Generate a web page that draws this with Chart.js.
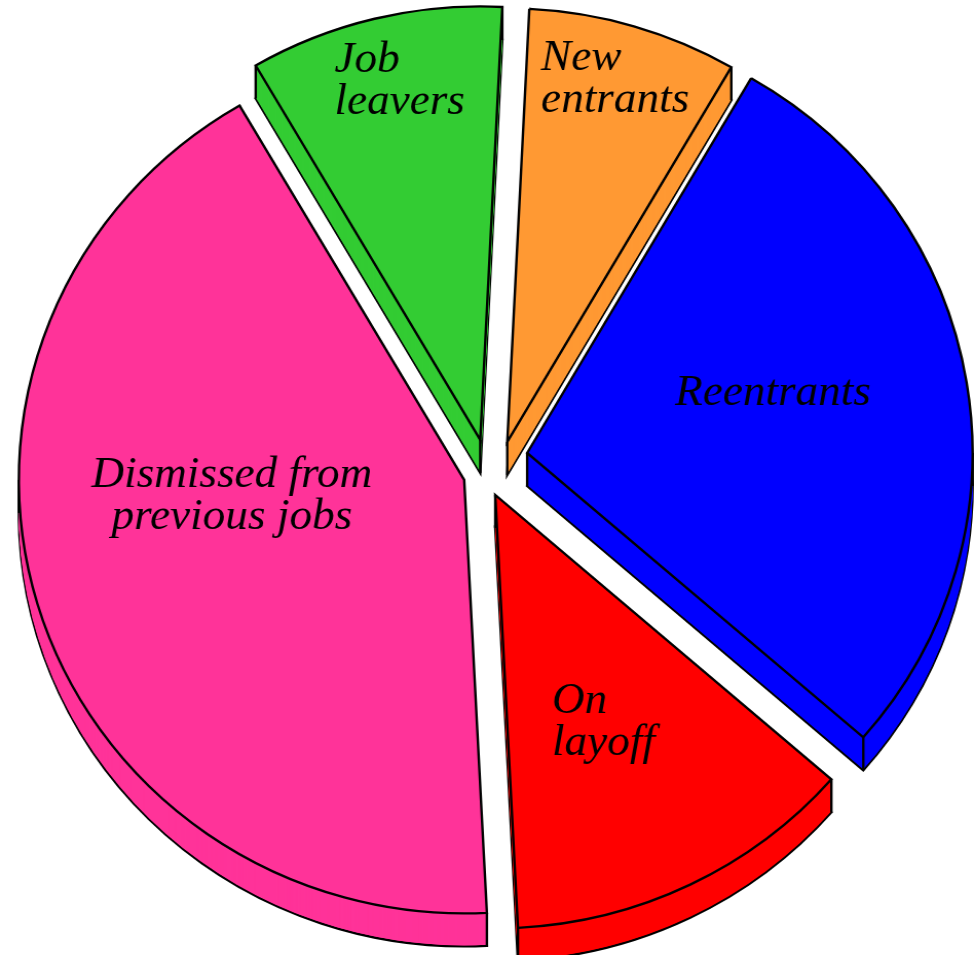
<!DOCTYPE html>
<html>
<head>
<meta charset="utf-8">
<script src="https://cdn.jsdelivr.net/npm/chart.js@4.4.1/dist/chart.umd.min.js"></script>
<style>
  html, body { margin: 0; background: #fff; }
  #wrap { width: 948px; height: 955px; transform: scaleX(1.0274); transform-origin: 0 0; }
</style>
</head>
<body>
<div id="wrap"><canvas id="myChart" width="948" height="955"></canvas></div>
<script>
// unemployed by reason, percent of total
var categories = ["New entrants", "Reentrants", "On layoff", "Dismissed from previous jobs", "Job leavers"];
var shares = [7.6, 28.0, 12.8, 42.4, 9.2];
var sliceLabels = [["New", "entrants"], ["Reentrants"], ["On", "layoff"], ["Dismissed from", "previous jobs"], ["Job", "leavers"]];
var sliceColors = ["#ff9933", "#0000ff", "#ff0000", "#ff3399", "#33cc33"];

// how far each slice is pulled out (px) and in which clock direction (deg)
var explode = [31.7, 39.8, 27.0, 27.2, 30.0];
var explodeDir = [32.9, 66.9, 168.2, 245.2, 342.4];
// label spot inside each slice: clock angle (deg) and fraction of radius
var labelAngle = [5.05, 71.6, 165.8, 268.2, 338.9];
var labelRadius = [0.862, 0.350, 0.519, 0.522, 0.910];
var labelAlign = ["left", "left", "left", "center", "left"];
var depth = 33;
var lineW = 2.4;

function shiftOf(i) {
  var a = explodeDir[i] * Math.PI / 180;
  return {x: Math.sin(a) * explode[i], y: -Math.cos(a) * explode[i]};
}

function slicePath(ctx, x, y, r, a0, a1) {
  ctx.beginPath();
  ctx.moveTo(x, y);
  ctx.arc(x, y, r, a0, a1);
  ctx.closePath();
}

// thick exploded pie: walls first, then chart.js draws each top face
var pie3d = {
  id: 'pie3d',
  beforeDatasetDraw: function () { return false; },
  afterDatasetsDraw: function (chart) {
    var ctx = chart.ctx;
    var arcs = chart.getDatasetMeta(0).data;

    arcs.forEach(function (arc, i) {
      var p = arc.getProps(['x', 'y', 'startAngle', 'endAngle', 'outerRadius'], true);
      var s = shiftOf(i);
      var x = p.x + s.x, y = p.y + s.y, r = p.outerRadius;
      ctx.save();
      ctx.fillStyle = sliceColors[i];
      ctx.strokeStyle = "#000";
      ctx.lineWidth = lineW;
      ctx.lineJoin = "miter";
      // bottom face with outline
      slicePath(ctx, x, y + depth, r, p.startAngle, p.endAngle);
      ctx.fill();
      ctx.stroke();
      for (var k = depth - 1; k >= 1; k--) {
        slicePath(ctx, x, y + k, r, p.startAngle, p.endAngle);
        ctx.fill();
      }
      // vertical edges at corners and side extremes
      var corners = [[x, y],
        [x + r * Math.cos(p.startAngle), y + r * Math.sin(p.startAngle)],
        [x + r * Math.cos(p.endAngle), y + r * Math.sin(p.endAngle)]];
      [-Math.PI, 0, Math.PI, 2 * Math.PI].forEach(function (a) {
        if (a > p.startAngle && a < p.endAngle) {
          corners.push([x + r * Math.cos(a), y + r * Math.sin(a)]);
        }
      });
      corners.forEach(function (c) {
        ctx.beginPath();
        ctx.moveTo(c[0], c[1]);
        ctx.lineTo(c[0], c[1] + depth);
        ctx.stroke();
      });
      ctx.restore();
    });

    arcs.forEach(function (arc, i) {
      var s = shiftOf(i);
      ctx.save();
      ctx.translate(s.x, s.y);
      arc.draw(ctx);
      ctx.restore();
    });

    ctx.save();
    ctx.fillStyle = "#000";
    ctx.font = 'italic 44px "Liberation Serif", "Times New Roman", serif';
    ctx.textBaseline = "alphabetic";
    arcs.forEach(function (arc, i) {
      var p = arc.getProps(['x', 'y', 'outerRadius'], true);
      var s = shiftOf(i);
      var th = labelAngle[i] * Math.PI / 180;
      var d = labelRadius[i] * p.outerRadius;
      var lx = p.x + s.x + Math.sin(th) * d;
      var ly = p.y + s.y - Math.cos(th) * d;
      ctx.textAlign = labelAlign[i];
      sliceLabels[i].forEach(function (line, j) {
        ctx.fillText(line, lx, ly + j * 42);
      });
    });
    ctx.restore();
  }
};

new Chart("myChart", {
  type: "pie",
  data: {
    labels: categories,
    datasets: [{
      data: shares,
      backgroundColor: sliceColors,
      borderColor: "#000",
      borderWidth: lineW,
      borderJoinStyle: "miter",
      hoverOffset: 0
    }]
  },
  options: {
    responsive: false,
    animation: false,
    events: [],
    rotation: 2.84,
    radius: 433.5,
    layout: {padding: {left: 5, right: 0, top: 0, bottom: 18}},
    plugins: {
      legend: {display: false},
      tooltip: {enabled: false}
    }
  },
  plugins: [pie3d]
});
</script>
</body>
</html>
